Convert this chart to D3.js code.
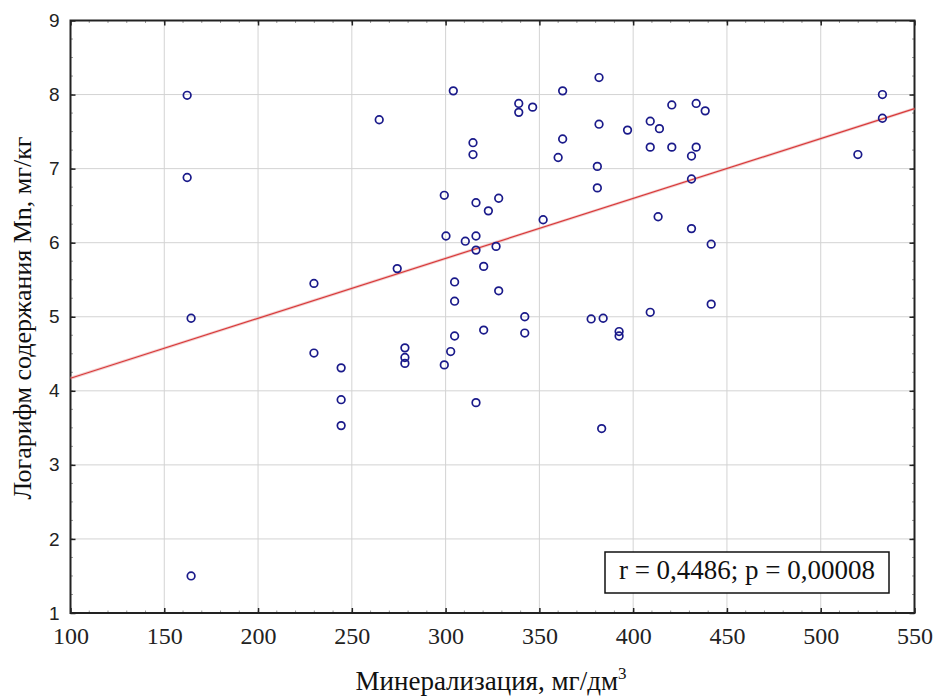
<!DOCTYPE html>
<html>
<head>
<meta charset="utf-8">
<script src="https://cdn.jsdelivr.net/npm/d3@7"></script>
<style>
  body { margin: 0; background: #fff; }
  svg { display: block; }
</style>
</head>
<body>
<div id="chart"></div>
<script>
// mineralization, mg/dm3 (x) and log of Mn content (y)
var mineral = [162.2, 162.2, 164.3, 164.3, 229.8, 229.8, 244.3, 244.3, 244.3, 264.6,
  274.2, 278.3, 278.3, 278.3, 299.3, 300.2, 299.3, 302.7, 304.1, 304.8,
  304.8, 304.8, 310.5, 314.6, 314.6, 316.2, 316.2, 316.2, 316.2, 320.3,
  320.3, 322.8, 326.9, 328.3, 328.3, 339.0, 339.0, 342.2, 342.2, 346.4,
  352.0, 360.0, 362.4, 362.4, 377.6, 380.9, 380.9, 381.8, 381.8, 383.2,
  384.0, 392.5, 392.5, 397.0, 409.1, 409.1, 409.1, 413.3, 414.0, 420.6,
  420.6, 431.1, 431.1, 431.1, 433.6, 433.6, 438.4, 441.6, 441.6, 519.8,
  532.9, 532.9];
var logMn = [7.99, 6.88, 4.98, 1.50, 5.45, 4.51, 4.31, 3.88, 3.53, 7.66,
  5.65, 4.58, 4.45, 4.37, 6.64, 6.09, 4.35, 4.53, 8.05, 5.47,
  5.21, 4.74, 6.02, 7.35, 7.19, 6.54, 6.09, 5.90, 3.84, 5.68,
  4.82, 6.43, 5.95, 6.60, 5.35, 7.88, 7.76, 5.00, 4.78, 7.83,
  6.31, 7.15, 8.05, 7.40, 4.97, 7.03, 6.74, 8.23, 7.60, 3.49,
  4.98, 4.80, 4.74, 7.52, 7.64, 7.29, 5.06, 6.35, 7.54, 7.86,
  7.29, 7.17, 6.86, 6.19, 7.88, 7.29, 7.78, 5.98, 5.17, 7.19,
  8.00, 7.68];

// fitted line
var fitX = [100, 550];
var fitY = [4.17, 7.81];

var xTicks = [100, 150, 200, 250, 300, 350, 400, 450, 500, 550];
var yTicks = [1, 2, 3, 4, 5, 6, 7, 8, 9];
var statText = "r = 0,4486; p = 0,00008";

function drawChart() {
  var width = 937, height = 697;
  var pLeft = 70.5, pRight = 914.5, pTop = 20.5, pBottom = 613;

  var svg = d3.select("#chart").append("svg")
      .attr("width", width)
      .attr("height", height);

  var x = d3.scaleLinear().domain([100, 550]).range([pLeft, pRight]);
  var y = d3.scaleLinear().domain([1, 9]).range([pBottom, pTop]);

  // grid
  svg.append("g").selectAll("line")
      .data(xTicks.slice(1, -1))
      .enter().append("line")
      .attr("x1", function(d) { return x(d); }).attr("x2", function(d) { return x(d); })
      .attr("y1", pTop).attr("y2", pBottom)
      .attr("stroke", "#d3d3d3").attr("stroke-width", 1);
  svg.append("g").selectAll("line")
      .data(yTicks.slice(1, -1))
      .enter().append("line")
      .attr("y1", function(d) { return y(d); }).attr("y2", function(d) { return y(d); })
      .attr("x1", pLeft).attr("x2", pRight)
      .attr("stroke", "#d3d3d3").attr("stroke-width", 1);

  // minor ticks (small grey marks along the frame)
  var xMinor = d3.range(100, 551, 10);
  var yMinor = d3.range(1, 9.01, 0.25);
  var minor = svg.append("g").attr("stroke", "#999").attr("stroke-width", 1);
  xMinor.forEach(function(d) {
    minor.append("line").attr("x1", x(d)).attr("x2", x(d)).attr("y1", pBottom).attr("y2", pBottom - 2.5);
    minor.append("line").attr("x1", x(d)).attr("x2", x(d)).attr("y1", pTop).attr("y2", pTop + 2.5);
  });
  yMinor.forEach(function(d) {
    minor.append("line").attr("y1", y(d)).attr("y2", y(d)).attr("x1", pLeft).attr("x2", pLeft + 2.5);
    minor.append("line").attr("y1", y(d)).attr("y2", y(d)).attr("x1", pRight).attr("x2", pRight - 2.5);
  });

  // axes, ticks pointing inwards
  svg.append("g")
      .attr("transform", "translate(0," + pBottom + ")")
      .call(d3.axisBottom(x).tickValues(xTicks).tickSize(-5).tickPadding(12))
      .call(function(g) {
        g.select(".domain").remove();
        g.selectAll("line").attr("stroke", "#222").attr("stroke-width", 1.5);
        g.selectAll("text").attr("font-family", "'Liberation Serif', serif")
          .attr("font-size", "24px").attr("fill", "#222").attr("dy", "0.78em");
      });
  svg.append("g")
      .attr("transform", "translate(" + pLeft + ",0)")
      .call(d3.axisLeft(y).tickValues(yTicks).tickSize(-5).tickPadding(11))
      .call(function(g) {
        g.select(".domain").remove();
        g.selectAll("line").attr("stroke", "#222").attr("stroke-width", 1.5);
        g.selectAll("text").attr("font-family", "'Liberation Sans', Arial, sans-serif")
          .attr("font-size", "19px").attr("fill", "#222");
      });
  svg.append("g")
      .attr("transform", "translate(0," + pTop + ")")
      .call(d3.axisTop(x).tickValues(xTicks).tickSize(-5).tickFormat(""))
      .call(function(g) {
        g.select(".domain").remove();
        g.selectAll("line").attr("stroke", "#222").attr("stroke-width", 1.5);
      });
  svg.append("g")
      .attr("transform", "translate(" + pRight + ",0)")
      .call(d3.axisRight(y).tickValues(yTicks).tickSize(-5).tickFormat(""))
      .call(function(g) {
        g.select(".domain").remove();
        g.selectAll("line").attr("stroke", "#222").attr("stroke-width", 1.5);
      });

  // frame
  svg.append("rect")
      .attr("x", pLeft).attr("y", pTop)
      .attr("width", pRight - pLeft).attr("height", pBottom - pTop)
      .attr("fill", "none").attr("stroke", "#222").attr("stroke-width", 2);

  // regression line
  svg.append("line")
      .attr("x1", x(fitX[0])).attr("y1", y(fitY[0]))
      .attr("x2", x(fitX[1])).attr("y2", y(fitY[1]))
      .attr("stroke", "#e8a0a0").attr("stroke-width", 3).attr("opacity", 0.5);
  svg.append("line")
      .attr("x1", x(fitX[0])).attr("y1", y(fitY[0]))
      .attr("x2", x(fitX[1])).attr("y2", y(fitY[1]))
      .attr("stroke", "#d83a3a").attr("stroke-width", 1.2);

  // points
  svg.append("g").selectAll("circle")
      .data(mineral)
      .enter().append("circle")
      .attr("cx", function(d) { return x(d); })
      .attr("cy", function(d, i) { return y(logMn[i]); })
      .attr("r", 3.8)
      .attr("fill", "none")
      .attr("stroke", "#1a1a8a")
      .attr("stroke-width", 1.7);

  // stats box
  svg.append("rect")
      .attr("x", 605).attr("y", 552)
      .attr("width", 284).attr("height", 41)
      .attr("fill", "#fff").attr("stroke", "#111").attr("stroke-width", 1.5);
  svg.append("text")
      .attr("x", 747).attr("y", 579)
      .attr("text-anchor", "middle")
      .attr("font-family", "'Liberation Serif', serif")
      .attr("font-size", "27px").attr("fill", "#111")
      .text(statText);

  // axis titles
  var xTitle = svg.append("text")
      .attr("x", 491).attr("y", 690)
      .attr("text-anchor", "middle")
      .attr("font-family", "'Liberation Serif', serif")
      .attr("font-size", "27px").attr("fill", "#111")
      .text("Минерализация, мг/дм");
  xTitle.append("tspan").attr("font-size", "17px").attr("dy", -11).text("3");

  svg.append("text")
      .attr("transform", "translate(31,318) rotate(-90)")
      .attr("text-anchor", "middle")
      .attr("font-family", "'Liberation Serif', serif")
      .attr("font-size", "26px").attr("fill", "#111")
      .text("Логарифм содержания Mn, мг/кг");
}

drawChart();
</script>
</body>
</html>
